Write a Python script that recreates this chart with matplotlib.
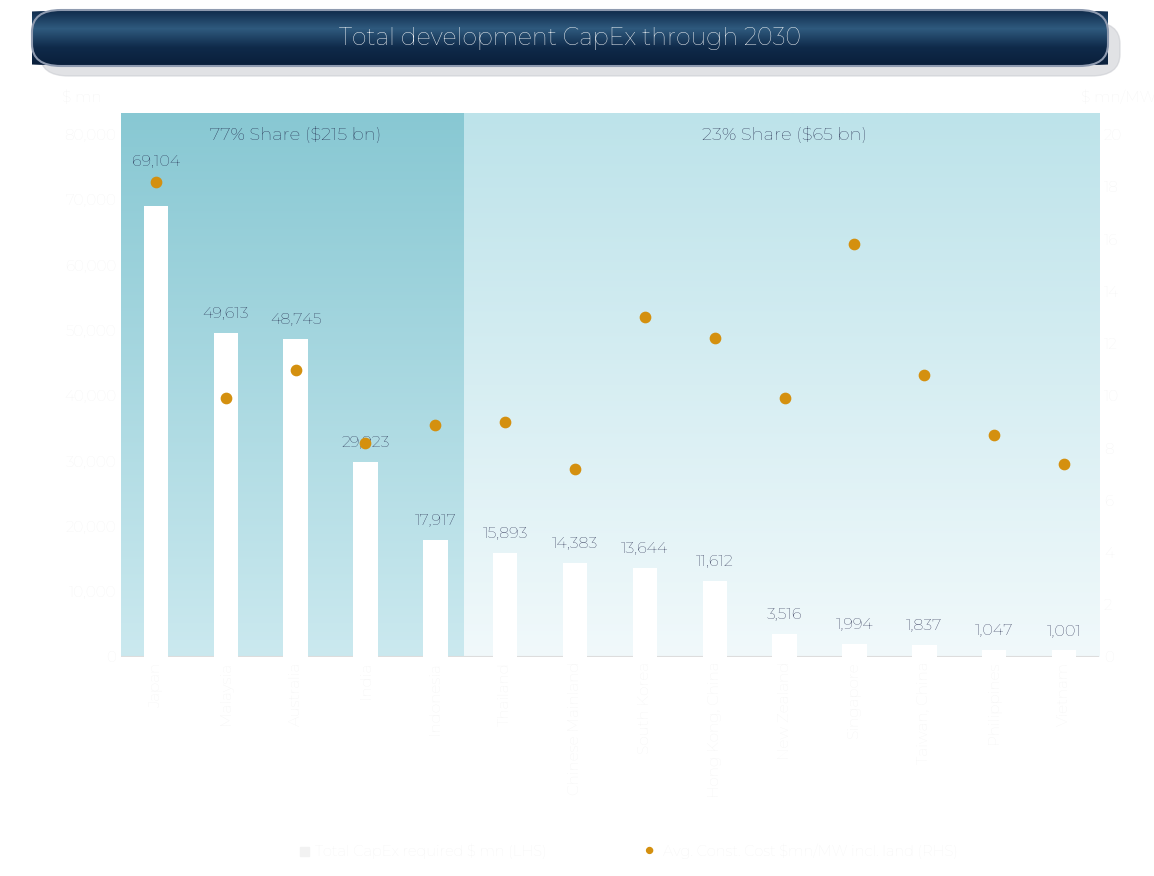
import numpy as np
import matplotlib.pyplot as plt
from matplotlib.patches import FancyBboxPatch
from matplotlib.colors import LinearSegmentedColormap

countries = ['Japan', 'Malaysia', 'Australia', 'India', 'Indonesia', 'Thailand',
             'Chinese Mainland', 'South Korea', 'Hong Kong, China', 'New Zealand',
             'Singapore', 'Taiwan, China', 'Philippines', 'Vietnam']
capex = [69104, 49613, 48745, 29923, 17917, 15893, 14383, 13644, 11612,
         3516, 1994, 1837, 1047, 1001]
cost_per_mw = [18.2, 9.9, 11.0, 8.2, 8.9, 9.0, 7.2, 13.0, 12.2, 9.9,
               15.8, 10.8, 8.5, 7.4]

plt.rcParams['font.family'] = ['Montserrat', 'Lato', 'DejaVu Sans']
navy = '#1c2145'
faint = '#f2f2f2'
gold = '#d4900f'

fig = plt.figure(figsize=(11.54, 8.76), dpi=100)
ax = fig.add_axes([121 / 1154, 1 - 657 / 876, (1099 - 121) / 1154, (657 - 113) / 876])
ymax = 83300
x = np.arange(len(countries))

# background gradient bands
split = 4.41
grad = np.linspace(0, 1, 256).reshape(-1, 1)
left_cm = LinearSegmentedColormap.from_list('l', ['#88c8d3', '#cbe9ef'])
right_cm = LinearSegmentedColormap.from_list('r', ['#bde3ea', '#f1f9fb'])
ax.imshow(grad, cmap=left_cm, extent=[-0.5, split, 0, ymax], aspect='auto', zorder=0)
ax.imshow(grad, cmap=right_cm, extent=[split, len(countries) - 0.5, 0, ymax], aspect='auto', zorder=0)

ax.bar(x, capex, width=0.35, color='white', zorder=2)
for xi, v in zip(x, capex):
    off = 5600 if xi == 0 else 1800
    ax.text(xi, v + off, f'{v:,}', ha='center', va='bottom', fontsize=11.5,
            color=navy, fontweight='semibold', zorder=3)
ax.text(2, ymax - 2000, '77% Share ($215 bn)', ha='center', va='top', fontsize=13,
        color=navy, fontweight='semibold')
ax.text(9, ymax - 2000, '23% Share ($65 bn)', ha='center', va='top', fontsize=13,
        color=navy, fontweight='semibold')

ax.set_xlim(-0.5, len(countries) - 0.5)
ax.set_ylim(0, ymax)
ax.set_yticks(range(0, 80001, 10000))
ax.set_yticklabels([f'{t:,}' for t in range(0, 80001, 10000)], color=faint, fontsize=11)
ax.set_xticks(x)
ax.set_xticklabels(countries, rotation=90, color=faint, fontsize=11)
ax.tick_params(length=0)
for s in ax.spines.values():
    s.set_visible(False)
ax.axhline(0, color='#dddddd', lw=1.5, zorder=1)
ax.text(-0.02, 1.02, '$ mn', transform=ax.transAxes, ha='right', color=faint, fontsize=11)

ax2 = ax.twinx()
ax2.scatter(x, cost_per_mw, s=55, color=gold, zorder=4)
ax2.set_ylim(0, 20 * ymax / 80000)
ax2.set_yticks(range(0, 21, 2))
ax2.set_yticklabels([str(t) for t in range(0, 21, 2)], color=faint, fontsize=11)
ax2.tick_params(length=0)
for s in ax2.spines.values():
    s.set_visible(False)
ax2.text(1.02, 1.02, '$ mn/MW', transform=ax.transAxes, ha='center', color=faint, fontsize=11)

# legend
fig.patches.append(plt.Rectangle((300 / 1154, 1 - 856 / 876), 9 / 1154, 9 / 876,
                                 transform=fig.transFigure, color=faint))
fig.text(315 / 1154, 1 - 851 / 876, 'Total CapEx required $ mn (LHS)', va='center',
         color=faint, fontsize=10.5)
fig.text(649 / 1154, 1 - 851 / 876, '●', va='center', ha='center', color=gold, fontsize=11)
fig.text(663 / 1154, 1 - 851 / 876, 'Avg. Const. Cost $mn/MW incl. land (RHS)', va='center',
         color=faint, fontsize=10.5)

# title banner with gradient fill
shadow = FancyBboxPatch((40 / 1154, 1 - 76 / 876), 1080 / 1154, 54 / 876,
                        boxstyle='round,pad=0,rounding_size=0.025', transform=fig.transFigure,
                        color='#c4c6cc', alpha=0.5, zorder=0)
banner = FancyBboxPatch((32 / 1154, 1 - 66 / 876), 1076 / 1154, 56 / 876,
                        boxstyle='round,pad=0,rounding_size=0.025', transform=fig.transFigure,
                        facecolor='none', edgecolor='#8f9bb0', lw=1.5, zorder=3)
fig.patches.extend([shadow, banner])
bax = fig.add_axes([32 / 1154, 1 - 66 / 876, 1076 / 1154, 56 / 876], zorder=2)
bcm = LinearSegmentedColormap.from_list('b', ['#0f2a4a', '#2f5a7e', '#0f2a4a', '#0a1f3a'])
bax.imshow(np.linspace(0, 1, 256).reshape(-1, 1), cmap=bcm, aspect='auto', extent=[0, 1, 0, 1])
clip = FancyBboxPatch((0, 0), 1, 1, boxstyle='round,pad=0,rounding_size=0.5',
                      mutation_aspect=1 / 19, transform=bax.transData, facecolor='none', edgecolor='none')
bax.add_patch(clip)
bax.images[0].set_clip_path(clip)
bax.axis('off')
bax.text(0.5, 0.5, 'Total development CapEx through 2030', ha='center', va='center',
         color='white', fontsize=17, fontweight='semibold')

fig.savefig('out.png', dpi=100)
